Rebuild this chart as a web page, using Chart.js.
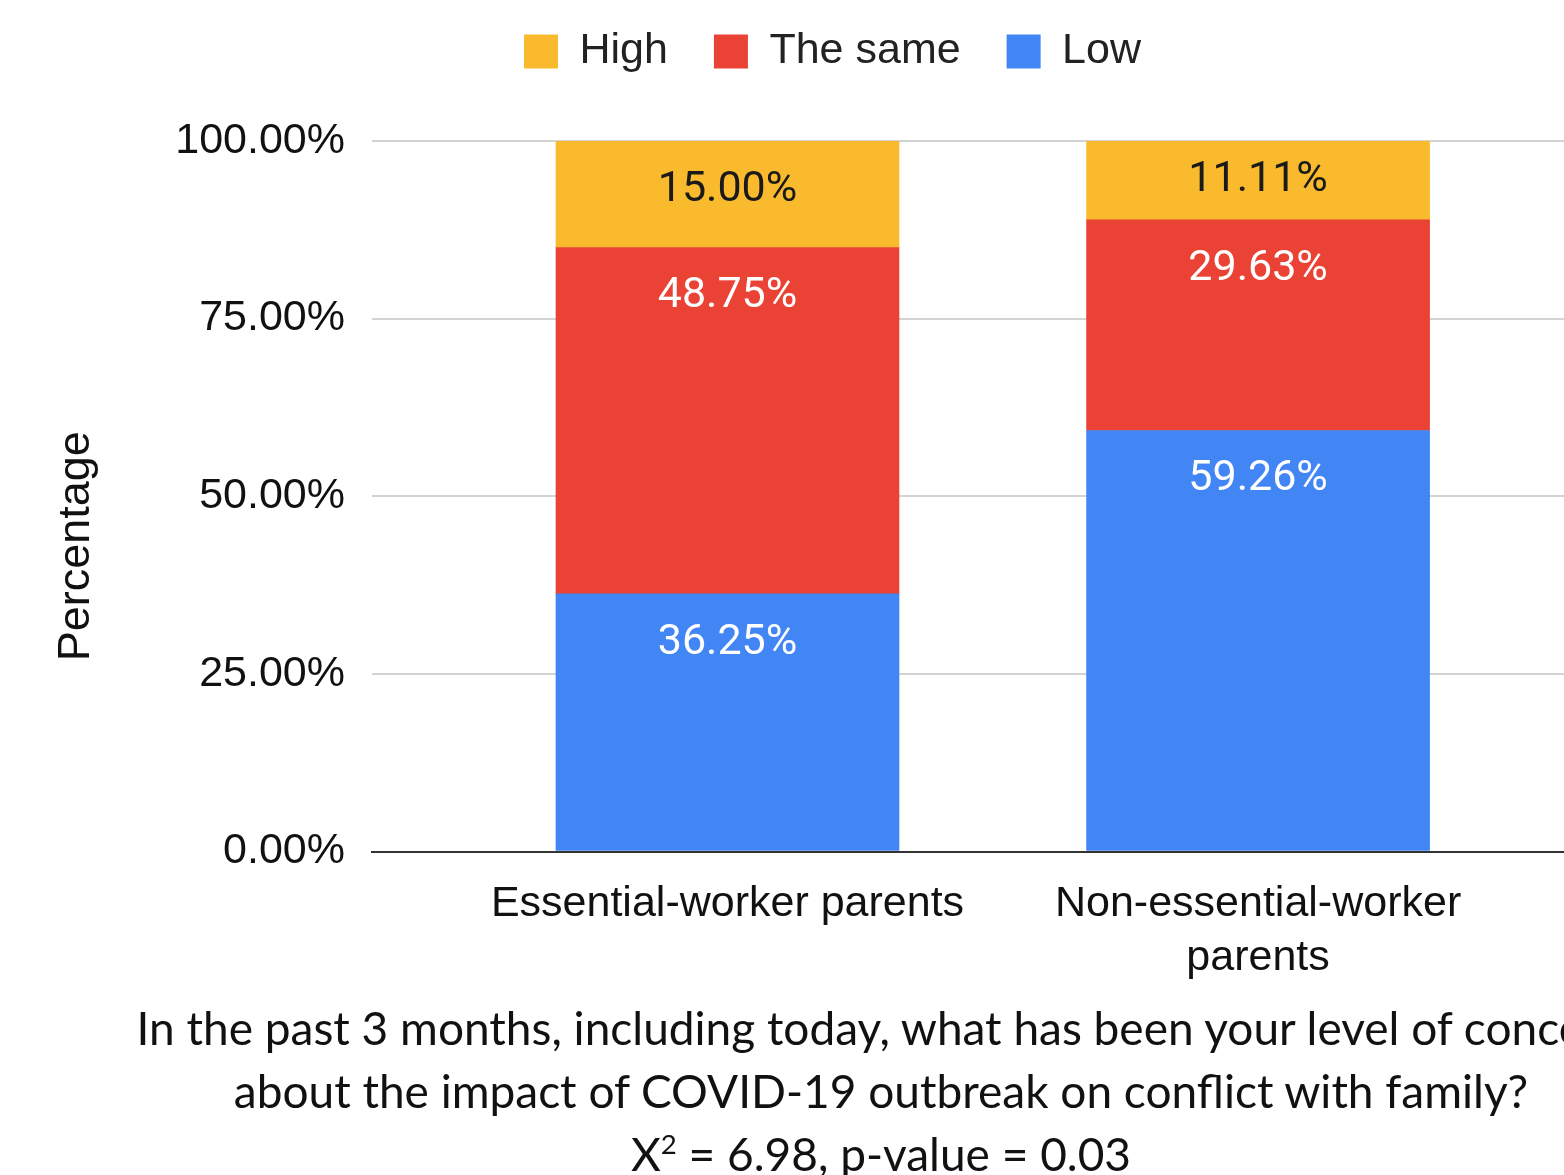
<!DOCTYPE html>
<html>
<head>
<meta charset="utf-8">
<script src="https://cdn.jsdelivr.net/npm/chart.js@4.4.0/dist/chart.umd.min.js"></script>
<style>
    html, body { margin: 0; padding: 0; background: #fff; overflow: hidden; width: 1564px; height: 1175px; }
    #wrap { position: absolute; left: 0; top: 0; width: 1665px; height: 1009px; }
    #caption {
        position: absolute; left: 0; top: 996px; width: 1762px;
        text-align: center; white-space: nowrap;
        font-family: Lato, "Open Sans", sans-serif; font-size: 46px; line-height: 63px; color: #111;
    }
    #caption sup { font-size: 0.6em; line-height: 0; vertical-align: 0.6em; }
</style>
</head>
<body>
<div id="wrap"><canvas id="chart"></canvas></div>
<div id="caption">In the past 3 months, including today, what has been your level of concern<br>about the impact of COVID-19 outbreak on conflict with family?<br>X<sup>2</sup> = 6.98, p-value = 0.03</div>
<script>
//////// Data ////////
const categories = ["Essential-worker parents", ["Non-essential-worker", "parents"]]
const seriesNames = ["Low", "The same", "High"]
const lowValues = [36.25, 59.26]
const sameValues = [48.75, 29.63]
const highValues = [15.00, 11.11]
const yTicks = [0, 25, 50, 75, 100]

const seriesColors = ["#4285F4", "#EA4335", "#F9BB2D"]
const labelColors = ["#ffffff", "#ffffff", "#1a1a1a"]

Chart.defaults.font.family = '"Liberation Sans", Arial, sans-serif'
Chart.defaults.color = "#222"

let toPoints = (values) => values.map((v, i) => ({x: i, y: v}))

//////// Extra room under the legend ////////
const legendSpacer = {
    id: "legendSpacer",
    beforeInit(chart) {
        const fit = chart.legend.fit
        chart.legend.fit = function () {
            fit.call(this)
            this.height += 58
        }
    }
}

//////// Value labels inside the segments ////////
const segmentLabels = {
    id: "segmentLabels",
    afterDatasetsDraw(chart) {
        const ctx = chart.ctx
        ctx.save()
        ctx.font = "43px Roboto"
        ctx.textAlign = "center"
        ctx.textBaseline = "middle"
        chart.data.datasets.forEach((ds, di) => {
            chart.getDatasetMeta(di).data.forEach((bar, i) => {
                const top = Math.min(bar.y, bar.base)
                const bottom = Math.max(bar.y, bar.base)
                const y = Math.min(top + 49, (top + bottom) / 2)
                ctx.fillStyle = labelColors[di]
                ctx.fillText(ds.data[i].y.toFixed(2) + "%", bar.x, y)
            })
        })
        ctx.restore()
    }
}

const datasets = [lowValues, sameValues, highValues].map((values, i) => ({
    label: seriesNames[i],
    data: toPoints(values),
    backgroundColor: seriesColors[i],
    borderWidth: 0,
    barThickness: 343
}))

let ctx = document.getElementById("chart").getContext("2d")
const myChart = new Chart(ctx, {
    type: "bar",
    data: { datasets: datasets },
    plugins: [legendSpacer, segmentLabels],
    options: {
        responsive: true,
        maintainAspectRatio: false,
        animation: false,
        layout: { padding: { top: -16, left: 0, right: 0, bottom: 6 } },
        plugins: {
            tooltip: { enabled: false },
            legend: {
                position: "top",
                reverse: true,
                labels: {
                    boxWidth: 34,
                    boxHeight: 34,
                    padding: 46,
                    color: "#222",
                    font: { size: 43 }
                }
            }
        },
        scales: {
            x: {
                type: "linear",
                stacked: true,
                offset: false,
                min: -0.67,
                max: 1.733,
                grid: { display: false },
                border: { color: "#333", width: 2 },
                ticks: {
                    stepSize: 1,
                    autoSkip: false,
                    maxRotation: 0,
                    minRotation: 0,
                    padding: 18,
                    color: "#111",
                    font: { size: 43, lineHeight: 1.25 },
                    callback: (v) => Number.isInteger(v) && categories[v] ? categories[v] : ""
                }
            },
            y: {
                stacked: true,
                min: 0,
                max: 100,
                afterBuildTicks: (scale) => { scale.ticks = yTicks.map(v => ({value: v})) },
                afterFit: (scale) => { scale.width = 372 },
                grid: {
                    drawTicks: false,
                    lineWidth: 2,
                    color: (c) => c.tick && c.tick.value === 0 ? "#333" : "#d3d3d3"
                },
                border: { display: false },
                ticks: {
                    padding: 27,
                    color: "#111",
                    font: { size: 43 },
                    callback: (v) => v.toFixed(2) + "%"
                },
                title: {
                    display: true,
                    text: "Percentage        ",
                    color: "#111",
                    font: { size: 45 },
                    padding: { top: 50, bottom: 0 }
                }
            }
        }
    }
})
</script>
</body>
</html>
